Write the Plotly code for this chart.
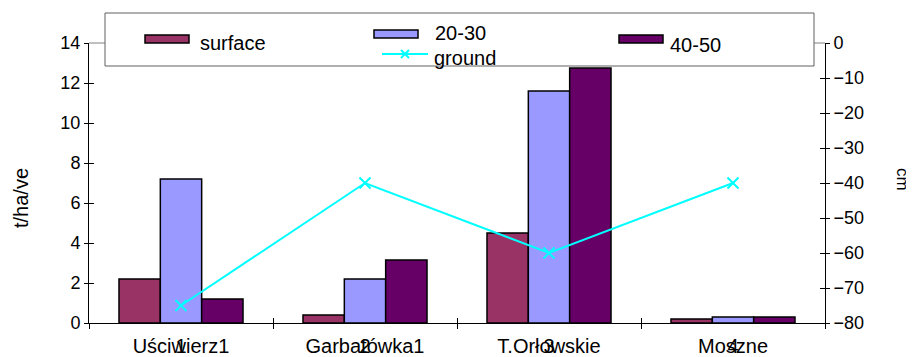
import plotly.graph_objects as go

# ---------------- data ----------------
categories = ["Uściwierz1", "Garbatówka1", "T.Orłowskie", "Moszne"]
surface = [2.2, 0.4, 4.5, 0.2]
d20_30 = [7.2, 2.2, 11.6, 0.3]
d40_50 = [1.2, 3.15, 12.75, 0.3]
ground_x = [1, 2, 3, 4]
ground = [-75, -40, -60, -40]
left_ticks = [0, 2, 4, 6, 8, 10, 12, 14]
right_ticks = [0, -10, -20, -30, -40, -50, -60, -70, -80]

# ---------------- layout geometry ----------------
OFF = 8                      # default page margin around the figure
W, H = 914 - OFF, 357 - OFF
PL, PR, PT, PB = 89, 825, 43, 323   # plot area in screen pixels
L, T = PL - OFF, PT - OFF
PW, PH = PR - PL, PB - PT
R = W - L - PW
B = H - T - PH
FONT = "Liberation Sans, Arial, sans-serif"

def px(x):
    return (x - PL) / PW

def py(y):
    return (PB - y) / PH

c_surface = "#993366"
c_2030 = "#9999FF"
c_4050 = "#660066"
c_ground = "#00FFFF"

fig = go.Figure()
for name, vals, col in [("surface", surface, c_surface),
                        ("20-30", d20_30, c_2030),
                        ("40-50", d40_50, c_4050)]:
    fig.add_trace(go.Bar(x=categories, y=vals, name=name,
                         marker=dict(color=col, line=dict(color="black", width=1.5)),
                         xaxis="x", yaxis="y"))

fig.add_trace(go.Scatter(x=ground_x, y=ground, name="ground", mode="lines+markers",
                         line=dict(color=c_ground, width=2),
                         marker=dict(symbol="x-thin", size=11, line=dict(color=c_ground, width=2)),
                         xaxis="x2", yaxis="y2"))
# empty helper traces for inner tick halves
fig.add_trace(go.Scatter(x=[None], y=[None], xaxis="x3", yaxis="y3", showlegend=False))
fig.add_trace(go.Scatter(x=[None], y=[None], xaxis="x3", yaxis="y4", showlegend=False))

tickfont = dict(family=FONT, size=18, color="black")
common = dict(automargin=False, showgrid=False, zeroline=False)

fig.update_layout(
    width=W, height=H,
    margin=dict(l=L, r=R, t=T, b=B, pad=0, autoexpand=False),
    paper_bgcolor="white", plot_bgcolor="white",
    showlegend=False,
    barmode="group", bargap=0.326, bargroupgap=0,
    font=dict(family=FONT, color="black"),
    xaxis=dict(type="category", tickson="boundaries", ticks="outside", ticklen=5,
               tickcolor="black", showline=True, linecolor="black", linewidth=1,
               tickfont=dict(family=FONT, size=20, color="black"),
               ticklabelstandoff=5, range=[-0.5, 3.5], **common),
    xaxis2=dict(overlaying="x", anchor="y2", side="bottom", range=[0.5, 4.5],
                tickvals=ground_x, ticktext=[str(v) for v in ground_x],
                ticks="", showline=False, ticklabelstandoff=9,
                tickfont=dict(family=FONT, size=20, color="black"), **common),
    yaxis=dict(range=[0, 14], tickvals=left_ticks, ticks="outside", ticklen=4,
               tickcolor="black", showline=True, linecolor="black", linewidth=1,
               tickfont=tickfont, **common),
    yaxis2=dict(overlaying="y", side="right", anchor="x", range=[-80, 0],
                tickvals=right_ticks, ticks="outside", ticklen=4, tickcolor="black",
                showline=True, linecolor="black", linewidth=1,
                tickfont=tickfont, **common),
    xaxis3=dict(overlaying="x", anchor="y3", range=[0, 4], tickvals=[0, 1, 2, 3, 4],
                ticks="inside", ticklen=5, tickcolor="black", showticklabels=False,
                showline=False, **common),
    yaxis3=dict(overlaying="y", anchor="x3", side="left", range=[0, 14], tickvals=left_ticks,
                ticks="inside", ticklen=5, tickcolor="black", showticklabels=False,
                showline=False, **common),
    yaxis4=dict(overlaying="y", anchor="x3", side="right", range=[-80, 0], tickvals=right_ticks,
                ticks="inside", ticklen=5, tickcolor="black", showticklabels=False,
                showline=False, **common),
)

shapes = []
# plot area top border
shapes.append(dict(type="line", xref="paper", yref="paper", x0=0, x1=1, y0=1, y1=1,
                   line=dict(color="#808080", width=1), layer="below"))
# legend box
shapes.append(dict(type="rect", xref="paper", yref="paper",
                   x0=px(105), x1=px(814), y0=py(66), y1=py(13),
                   fillcolor="white", line=dict(color="#606060", width=1), layer="above"))
# swatches
for (x0, x1, y0, y1, col) in [(145, 189, 35, 43, c_surface),
                              (374, 418, 30, 38, c_2030),
                              (619, 663, 35, 43, c_4050)]:
    shapes.append(dict(type="rect", xref="paper", yref="paper",
                       x0=px(x0), x1=px(x1), y0=py(y1), y1=py(y0),
                       fillcolor=col, line=dict(color="black", width=1.5), layer="above"))
# ground legend line + x marker
shapes.append(dict(type="line", xref="paper", yref="paper", x0=px(382), x1=px(428),
                   y0=py(54), y1=py(54), line=dict(color=c_ground, width=2), layer="above"))
for dx in (-1, 1):
    shapes.append(dict(type="line", xref="paper", yref="paper",
                       x0=px(405 - 4), x1=px(405 + 4), y0=py(54 - 4 * dx), y1=py(54 + 4 * dx),
                       line=dict(color=c_ground, width=2), layer="above"))

annotations = []
for (x, y, txt) in [(198, 43, "surface"), (433, 33, "20-30"), (432, 58, "ground"), (668, 45, "40-50")]:
    annotations.append(dict(xref="paper", yref="paper", x=px(x), y=py(y), text=txt,
                            showarrow=False, xanchor="left", yanchor="middle",
                            font=dict(family=FONT, size=20, color="black")))
annotations.append(dict(xref="paper", yref="paper", x=px(21), y=py(198), text="t/ha/ve",
                        textangle=-90, showarrow=False, xanchor="center", yanchor="middle",
                        font=dict(family=FONT, size=20, color="black")))
annotations.append(dict(xref="paper", yref="paper", x=px(903), y=py(179), text="cm",
                        textangle=90, showarrow=False, xanchor="center", yanchor="middle",
                        font=dict(family=FONT, size=17, color="black")))

fig.update_layout(shapes=shapes, annotations=annotations)
fig.write_html("out.html")
